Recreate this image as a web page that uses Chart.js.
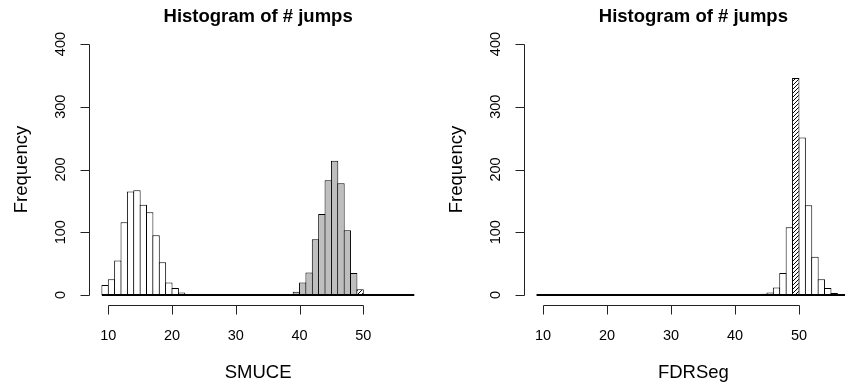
<!DOCTYPE html>
<html>
<head>
<meta charset="utf-8">
<script src="https://cdn.jsdelivr.net/npm/chart.js@4.4.1/dist/chart.umd.min.js"></script>
<style>
  html, body { margin: 0; padding: 0; background: #fff; }
  #wrap { position: relative; width: 845px; height: 386px; overflow: hidden; }
  #wrap canvas { position: absolute; top: 0; }
</style>
</head>
<body>
<div id="wrap">
  <canvas id="smuce" width="430" height="386" style="left:0"></canvas>
  <canvas id="fdrseg" width="433" height="386" style="left:430px"></canvas>
</div>
<script>
// bins are 1 wide, each list starts at the given left bin edge
const smuceWhiteStart = 9;
const smuceWhite = [16, 25, 55, 116, 165, 167, 144, 132, 95, 52, 20, 11, 4, 1];
const smuceGrayStart = 39;
const smuceGray = [5, 20, 36, 89, 129, 183, 214, 178, 103, 35];
const smuceHatchStart = 49;
const smuceHatch = [9];

const fdrWhiteStart = 44;
const fdrWhite = [2, 4, 12, 35, 108, null, 251, 143, 61, 25, 11, 3];
const fdrHatchStart = 49;
const fdrHatch = [346];

const emptyRange = [9, 58];     // the empty bins sit on the zero line
const xLim = [7.04, 59.96];
const yLim = [-16, 416];
const xTicks = [10, 20, 30, 40, 50];
const yTicks = [0, 100, 200, 300, 400];

const FONT = '"Liberation Sans", Arial, Helvetica, sans-serif';

function bins(start, counts) {
  return counts
    .map((c, i) => ({ x: start + i + 0.5, y: c }))
    .filter(p => p.y !== null);
}

function hatch() {
  const c = document.createElement('canvas');
  c.width = 4; c.height = 4;
  const g = c.getContext('2d');
  g.fillStyle = '#fff';
  g.fillRect(0, 0, 4, 4);
  g.strokeStyle = '#000';
  g.lineWidth = 1;
  g.beginPath();
  g.moveTo(0, 4); g.lineTo(4, 0);
  g.moveTo(-1, 1); g.lineTo(1, -1);
  g.moveTo(3, 5); g.lineTo(5, 3);
  g.stroke();
  return g.createPattern(c, 'repeat');
}

// R style axes: lines only over the tick range, rotated y labels
const rAxes = {
  id: 'rAxes',
  afterDraw(chart, args, opts) {
    const ctx = chart.ctx;
    const xs = chart.scales.x, ys = chart.scales.y;
    const a = chart.chartArea;
    const ax = Math.floor(a.left) + 0.5;
    const ay = Math.floor(a.bottom) + 0.5;
    const px = v => Math.round(xs.getPixelForValue(v)) + 0.5;
    const py = v => Math.round(ys.getPixelForValue(v)) + 0.5;
    ctx.save();
    ctx.strokeStyle = '#222';
    ctx.lineWidth = 1;
    ctx.beginPath();
    ctx.moveTo(ax, py(yTicks[0]));
    ctx.lineTo(ax, py(yTicks[yTicks.length - 1]));
    yTicks.forEach(v => { ctx.moveTo(ax - 9, py(v)); ctx.lineTo(ax, py(v)); });
    ctx.moveTo(px(xTicks[0]), ay);
    ctx.lineTo(px(xTicks[xTicks.length - 1]), ay);
    xTicks.forEach(v => { ctx.moveTo(px(v), ay); ctx.lineTo(px(v), ay + 9); });
    ctx.stroke();

    ctx.fillStyle = '#000';
    ctx.textAlign = 'center';
    ctx.font = '14.5px ' + FONT;
    ctx.textBaseline = 'middle';
    yTicks.forEach(v => {
      ctx.save();
      ctx.translate(ax - 29, ys.getPixelForValue(v));
      ctx.rotate(-Math.PI / 2);
      ctx.fillText(String(v), 0, 0);
      ctx.restore();
    });
    ctx.textBaseline = 'alphabetic';
    xTicks.forEach(v => ctx.fillText(String(v), xs.getPixelForValue(v), 339.5));

    const cx = (a.left + a.right) / 2;
    ctx.font = '18.5px ' + FONT;
    ctx.fillText(opts.xTitle, cx, 378);
    ctx.save();
    ctx.translate(ax - 68, (a.top + a.bottom) / 2);
    ctx.rotate(-Math.PI / 2);
    ctx.textBaseline = 'middle';
    ctx.fillText('Frequency', 0, 0);
    ctx.restore();

    ctx.font = 'bold 18.5px ' + FONT;
    ctx.fillText('Histogram of # jumps', cx, 22);
    ctx.restore();
  }
};

function barSet(data, fill, order) {
  return {
    type: 'bar',
    data: data,
    backgroundColor: fill,
    borderColor: '#000',
    borderWidth: 1,
    borderSkipped: 'start',
    barPercentage: 1.156,
    categoryPercentage: 1,
    grouped: false,
    order: order
  };
}

function histChart(id, datasets, xTitle, padLeft, padRight) {
  datasets.push({
    type: 'line',
    data: emptyRange.map(x => ({ x: x, y: 0 })),
    borderColor: '#000',
    borderWidth: 2,
    pointRadius: 0,
    order: -1
  });
  return new Chart(document.getElementById(id), {
    type: 'bar',
    data: { datasets: datasets },
    options: {
      responsive: false,
      animation: false,
      layout: { padding: { left: padLeft, right: padRight, top: 34, bottom: 81 } },
      scales: {
        x: { type: 'linear', display: false, offset: false, min: xLim[0], max: xLim[1], ticks: { stepSize: 10 } },
        y: { type: 'linear', display: false, min: yLim[0], max: yLim[1] }
      },
      plugins: {
        legend: { display: false },
        title: { display: false },
        tooltip: { enabled: false },
        rAxes: { xTitle: xTitle }
      }
    },
    plugins: [rAxes]
  });
}

const pattern = hatch();

histChart('smuce', [
  barSet(bins(smuceWhiteStart, smuceWhite), '#ffffff', 3),
  barSet(bins(smuceGrayStart, smuceGray), '#bebebe', 2),
  barSet(bins(smuceHatchStart, smuceHatch), pattern, 1)
], 'SMUCE', 89.4, 3.2);

histChart('fdrseg', [
  barSet(bins(fdrWhiteStart, fdrWhite), '#ffffff', 3),
  barSet(bins(fdrHatchStart, fdrHatch), pattern, 1)
], 'FDRSeg', 94, 0.3);
</script>
</body>
</html>
